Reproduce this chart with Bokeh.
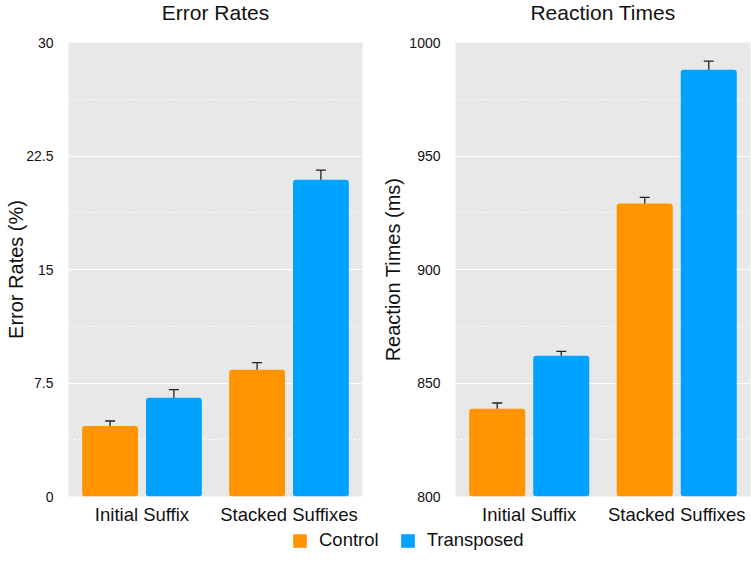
from bokeh.plotting import figure
from bokeh.models import (ColumnDataSource, FixedTicker, Whisker, TeeHead, Legend,
                          LegendItem, Range1d, FactorRange)
from bokeh.transform import dodge
from bokeh.layouts import row, column
from bokeh.embed import file_html
from bokeh.resources import INLINE
from bokeh.core.properties import value

# ---------------- data ----------------
categories = ["Initial Suffix", "Stacked Suffixes"]
series = ["Control", "Transposed"]
titles = ["Error Rates", "Reaction Times"]
ylabels = ["Error Rates (%)", "Reaction Times (ms)"]

err_control = [4.66, 8.37]
err_control_hi = [4.99, 8.85]
err_transposed = [6.53, 20.93]
err_transposed_hi = [7.06, 21.57]

rt_control = [838.7, 929.1]
rt_control_hi = [841.2, 931.8]
rt_transposed = [862.0, 988.0]
rt_transposed_hi = [863.9, 991.8]

err_ticks = [0, 7.5, 15, 22.5, 30]
err_minor = [3.75, 11.25, 18.75, 26.25]
err_tick_labels = ["0", "7.5", "15", "22.5", "30"]
rt_ticks = [800, 850, 900, 950, 1000]
rt_minor = [825, 875, 925, 975]
rt_tick_labels = ["800", "850", "900", "950", "1000"]

colors = ["#FF9300", "#00A2FF"]

# ---------------- layout / style ----------------
FONT = "Liberation Sans"
TXT = "#111111"
BG = "#E8E8E8"
OFFSET = 0.217
BAR_W = 0.38
HEAD_H = 26
TITLE_Y = 14
TOP, BOTTOM = 16, 32
FRAME_H = 454
PANEL_H = TOP + FRAME_H + BOTTOM
W1, BL1, BR1 = 372, 68, 10
W2, BL2, BR2 = 379, 83, 1


def panel(ylabel, ctrl, ctrl_hi, trans, trans_hi, ticks, minor, labels,
          ystart, yend, width, border_left, border_right, label_standoff):
    src = ColumnDataSource(dict(cat=categories, ctrl=ctrl, ctrl_hi=ctrl_hi,
                                trans=trans, trans_hi=trans_hi))
    p = figure(x_range=FactorRange(*categories, range_padding=0),
               y_range=Range1d(ystart, yend), title=None,
               width=width, height=PANEL_H, output_backend="svg", toolbar_location=None,
               min_border_left=border_left, min_border_right=border_right,
               min_border_top=TOP, min_border_bottom=BOTTOM)
    if p.title is not None:
        p.title.standoff = 0
        p.title.text_font_size = "1px"
    p.background_fill_color = BG
    p.border_fill_color = "white"
    p.outline_line_color = None

    p.vbar(x=dodge("cat", -OFFSET, range=p.x_range), top="ctrl", bottom=ystart,
           width=BAR_W, source=src, fill_color=colors[0], line_color=None,
           border_radius=3)
    p.vbar(x=dodge("cat", OFFSET, range=p.x_range), top="trans", bottom=ystart,
           width=BAR_W, source=src, fill_color=colors[1], line_color=None,
           border_radius=3)

    for off, lo, hi in ((-OFFSET, "ctrl", "ctrl_hi"), (OFFSET, "trans", "trans_hi")):
        w = Whisker(base=dodge("cat", off, range=p.x_range), lower=lo, upper=hi,
                    source=src, line_color="#222222", line_width=1.3,
                    upper_head=TeeHead(size=10, line_color="#222222", line_width=1.3),
                    lower_head=None, level="annotation")
        p.add_layout(w)

    ticker = FixedTicker(ticks=ticks, minor_ticks=minor)
    p.yaxis.ticker = ticker
    p.ygrid.ticker = ticker
    p.yaxis.major_label_overrides = {t: l for t, l in zip(ticks, labels)}
    p.ygrid.grid_line_color = "white"
    p.ygrid.grid_line_width = 1.2
    p.ygrid.minor_grid_line_color = "white"
    p.ygrid.minor_grid_line_dash = "2 3"
    p.ygrid.minor_grid_line_width = 1.2
    p.xgrid.grid_line_color = None

    for ax in (p.xaxis, p.yaxis):
        ax.axis_line_color = None
        ax.major_tick_line_color = None
        ax.minor_tick_line_color = None
        ax.major_tick_out = 0
        ax.major_tick_in = 0
        ax.minor_tick_out = 0
        ax.minor_tick_in = 0
        ax.major_label_text_font = FONT
        ax.major_label_text_color = TXT
        ax.axis_label_text_font = FONT
        ax.axis_label_text_font_style = "normal"
        ax.axis_label_text_color = TXT

    p.yaxis.major_label_text_font_size = "14px"
    p.yaxis.major_label_standoff = 15
    p.yaxis.axis_label = ylabel
    p.yaxis.axis_label_text_font_size = "20px"
    p.yaxis.axis_label_standoff = label_standoff
    p.xaxis.major_label_text_font_size = "18.5px"
    p.xaxis.major_label_standoff = 7
    return p


p1 = panel(ylabels[0], err_control, err_control_hi, err_transposed, err_transposed_hi,
           err_ticks, err_minor, err_tick_labels, 0, 30, W1, BL1, BR1, -4)
p2 = panel(ylabels[1], rt_control, rt_control_hi, rt_transposed, rt_transposed_hi,
           rt_ticks, rt_minor, rt_tick_labels, 800, 1000, W2, BL2, BR2, 2)

# header strip with the two panel titles, centred over each plot frame
total_w = W1 + W2
head = figure(width=total_w, height=HEAD_H, output_backend="svg", toolbar_location=None,
              x_range=Range1d(0, total_w), y_range=Range1d(0, HEAD_H),
              min_border=0, x_axis_location=None, y_axis_location=None, title=None)
head.outline_line_color = None
head.grid.grid_line_color = None
centres = [BL1 + (W1 - BL1 - BR1) / 2, W1 + BL2 + (W2 - BL2 - BR2) / 2]
head.text(x=centres, y=[TITLE_Y] * len(titles), text=titles, text_align="center",
          text_baseline="alphabetic", text_font=value(FONT), text_font_size="21px",
          text_color=TXT)

# legend strip (dummy renderers carry the real data but stay hidden)
p3 = figure(width=total_w, height=30, output_backend="svg", toolbar_location=None,
            x_range=FactorRange(*categories), y_range=Range1d(0, 1), title=None,
            min_border=0, x_axis_location=None, y_axis_location=None)
p3.outline_line_color = None
p3.grid.grid_line_color = None
p3.background_fill_color = "white"
leg_src = ColumnDataSource(dict(cat=categories, ctrl=err_control, trans=err_transposed))
r1 = p3.rect(x="cat", y="ctrl", width=0.1, height=0.1, source=leg_src,
             fill_color=colors[0], line_color=None, visible=False)
r2 = p3.rect(x="cat", y="trans", width=0.1, height=0.1, source=leg_src,
             fill_color=colors[1], line_color=None, visible=False)
leg = Legend(items=[LegendItem(label=series[0], renderers=[r1]),
                    LegendItem(label=series[1], renderers=[r2])],
             orientation="horizontal", location=(291, 7),
             glyph_width=17, glyph_height=17, label_standoff=11, spacing=20,
             padding=0, margin=0, border_line_color=None, background_fill_alpha=0,
             label_text_font=FONT, label_text_font_size="18.5px",
             label_text_color=TXT, label_height=17)
p3.add_layout(leg, "center")

layout = column(head, row(p1, p2), p3)
open("out.html", "w").write(file_html(layout, INLINE))
